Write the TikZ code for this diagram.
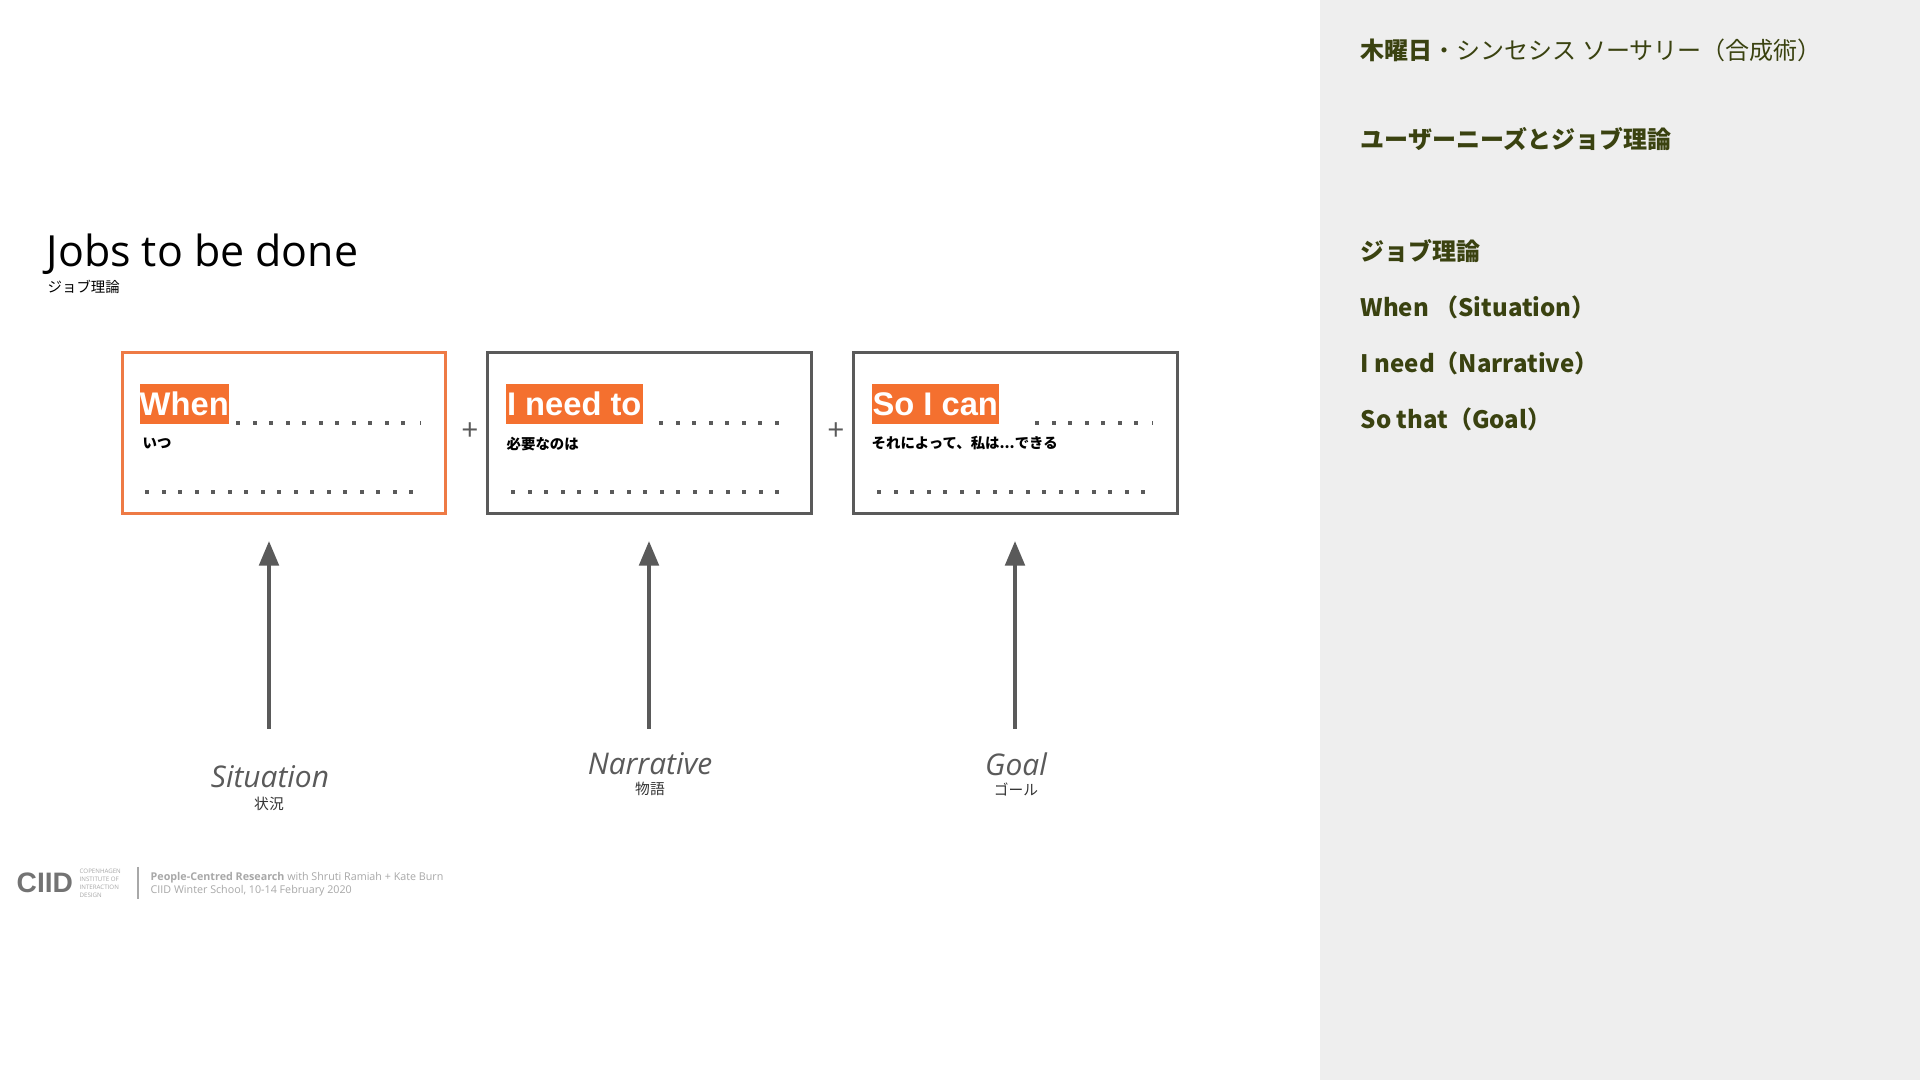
\documentclass[tikz,border=0pt]{standalone}
\usepackage{fontspec}
\setmainfont{Open Sans}
\newfontfamily\cjk{Noto Sans CJK JP}
\newfontfamily\arial{Liberation Sans}
\usetikzlibrary{arrows.meta,positioning}

\definecolor{boxorange}{HTML}{EE7A45}
\definecolor{tagorange}{HTML}{F4702F}
\definecolor{boxgray}{HTML}{5A5A5A}
\definecolor{olive}{HTML}{3A4210}
\definecolor{panelgray}{HTML}{EEEEEE}
\definecolor{footgray}{HTML}{A8A8A8}

\tikzset{
    jobbox/.style={draw=boxgray, line width=0.85pt, minimum width=3.235cm, minimum height=1.61cm, inner sep=0pt},
    tag/.style={fill=tagorange, text=white, font=\arial\bfseries\fontsize{9.3}{10}\selectfont, inner sep=0pt, anchor=west, minimum height=0.4cm},
    sidetext/.style={text=olive, anchor=west, inner sep=0pt, font=\cjk\bfseries\fontsize{6.83}{9}\selectfont},
    smallcjk/.style={text=black, anchor=west, inner sep=0pt, font=\cjk\bfseries\fontsize{4.1}{5}\selectfont},
    caption/.style={text=boxgray, inner sep=0pt, font=\itshape\fontsize{8.5}{10}\selectfont},
    subcaption/.style={text=black!80, inner sep=0pt, font=\cjk\fontsize{4.2}{5}\selectfont},
    plus/.style={text=boxgray, inner sep=0pt, font=\fontsize{8.5}{9}\selectfont},
    foot/.style={text=footgray, anchor=west, inner sep=0pt, font=\fontsize{3.05}{3.5}\selectfont}
}

\begin{document}
\begin{tikzpicture}[x=0.01cm, y=-0.01cm, >=Stealth]
    \useasboundingbox (0, 0) rectangle (1920, 1080);
    \fill[white] (0, 0) rectangle (1920, 1080);

    % right panel
    \fill[panelgray] (1320, 0) rectangle (1920, 1080);
    \node[sidetext] (day) at (1360, 50) {木曜日{\mdseries ・シンセシス ソーサリー（合成術）}};
    \node[sidetext] (needs) at (1360, 139) {ユーザーニーズとジョブ理論};
    \node[sidetext] (jtbd) at (1360, 251) {ジョブ理論};
    \node[sidetext] (sidewhen) at (1360, 307.5) {When （Situation）};
    \node[sidetext] (sideneed) at (1360, 363.5) {I need（Narrative）};
    \node[sidetext] (sidethat) at (1360, 419.5) {So that（Goal）};

    % title
    \node[anchor=west, inner sep=0pt, font=\fontsize{12.2}{15}\selectfont] (title) at (46, 254) {Jobs to be done};
    \node[anchor=west, inner sep=0pt, font=\cjk\fontsize{4.1}{5}\selectfont] (subtitle) at (47, 287) {ジョブ理論};

    % three boxes
    \node[jobbox, draw=boxorange] (boxwhen) at (284, 433) {};
    \node[jobbox] (boxneed) at (649.5, 433) {};
    \node[jobbox] (boxcan) at (1015.5, 433) {};
    \node[plus] (plusa) at (470, 432) {+};
    \node[plus] (plusb) at (836, 432) {+};

    % orange tags
    \node[tag, minimum width=0.89cm] (tagwhen) at (139, 404) {When};
    \node[tag, minimum width=1.37cm] (tagneed) at (505, 404) {I need to};
    \node[tag, minimum width=1.27cm] (tagcan) at (871, 404) {So I can};
    \node[smallcjk] (subwhen) at (142, 443) {いつ};
    \node[smallcjk] (subneed) at (506, 444) {必要なのは};
    \node[smallcjk] (subcan) at (871, 443) {それによって、私は...できる};

    % dotted lines
    \foreach \x in {0,...,10} {
        \fill[boxgray] (238+\x*16.5-2, 421) rectangle +(4, 4);
    }
    \fill[boxgray] (419.5, 421) rectangle +(1.5, 4);
    \foreach \x in {0,...,7} {
        \fill[boxgray] (661+\x*16.5-2, 421) rectangle +(4, 4);
    }
    \foreach \x in {0,...,6} {
        \fill[boxgray] (1037+\x*16.5-2, 421) rectangle +(4, 4);
    }
    \fill[boxgray] (1151.5, 421) rectangle +(1.5, 4);
    \foreach \s in {147, 513, 879} {
        \foreach \x in {0,...,16} {
            \fill[boxgray] (\s+\x*16.5-2, 490) rectangle +(4, 4);
        }
    }

    % arrows and their captions
    \node[caption] (capsit) at (270, 777) {Situation};
    \node[subcaption] (subsit) at (269, 804) {状況};
    \node[caption] (capnar) at (650, 764) {Narrative};
    \node[subcaption] (subnar) at (650, 789) {物語};
    \node[caption] (capgoal) at (1016, 764) {Goal};
    \node[subcaption] (subgoal) at (1016, 789) {ゴール};
    \foreach \n/\x in {sit/269, nar/649, goal/1015} {
        \coordinate (from\n) at (\x, 729);
        \coordinate (to\n) at (\x, 541);
        \draw[->, boxgray, line width=1.15pt, >={Stealth[inset=0pt, length=7pt, width=5.5pt]}] (from\n) -- (to\n);
    }

    % footer
    \node[anchor=west, inner sep=0pt, text=black!55, font=\arial\bfseries\fontsize{8}{10}\selectfont] (logo) at (16, 883) {CIID};
    \node[anchor=west, inner sep=0pt, text=footgray, align=left, font=\fontsize{1.75}{2.3}\selectfont] (logotext) at (79, 883) {COPENHAGEN\\INSTITUTE OF\\INTERACTION\\DESIGN};
    \coordinate (ruletop) at (138, 867);
    \coordinate (rulebot) at (138, 899);
    \draw[footgray, line width=0.4pt] (ruletop) -- (rulebot);
    \node[foot] (foota) at (150, 878) {\textbf{People-Centred Research} with Shruti Ramiah + Kate Burn};
    \node[foot] (footb) at (150, 891) {CIID Winter  School, 10-14 February 2020};
\end{tikzpicture}
\end{document}
